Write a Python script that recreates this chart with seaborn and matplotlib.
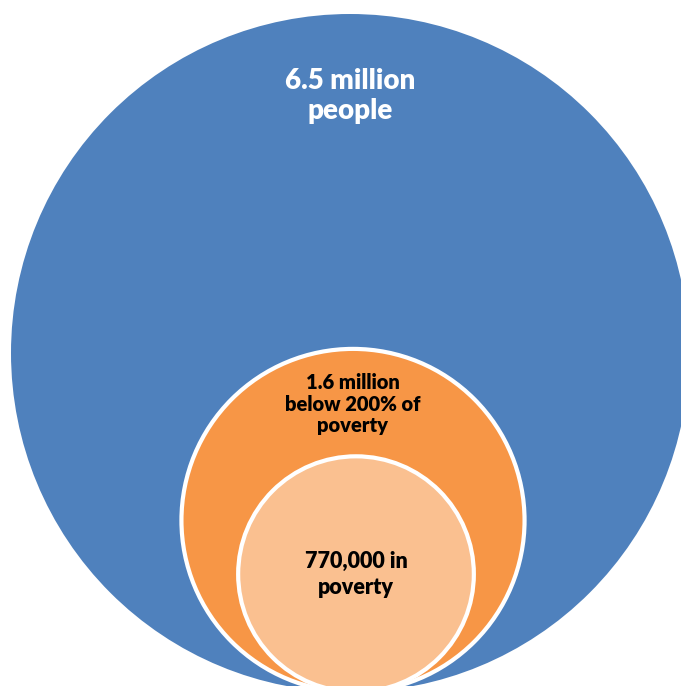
import numpy as np
import matplotlib
matplotlib.use("Agg")
import matplotlib.pyplot as plt
from matplotlib.patches import Circle
import seaborn as sns

# ---- data ----
labels = ["6.5 million\npeople", "1.6 million\nbelow 200% of\npoverty", "770,000 in\npoverty"]
values = [6_500_000, 1_600_000, 770_000]
colors = ["#4F81BD", "#F79646", "#FAC090"]
text_colors = ["white", "black", "black"]

# ---- layout (pixel-like canvas units) ----
W, H = 681, 686
R_MAX = 339          # radius of the largest circle
BASE_Y = 692         # common bottom (tangent) line of circles
CX = [350, 353, 356]
EDGE_W = [0, 3.0, 3.0]
R_SCALE = [1.0, 1.02, 1.01]
FONT_SIZES = [20, 14.5, 15.5]
LINESP = [1.2, 1.17, 1.3]
TEXT_POS = [0.121, 0.161, 0.5]  # label centre as fraction of diameter from top

sns.set_theme(style="white")
plt.rcParams['font.family'] = ['Lato', 'DejaVu Sans']

fig = plt.figure(figsize=(W / 100, H / 100), dpi=100)
ax = fig.add_axes([0, 0, 1, 1])
ax.set_xlim(0, W)
ax.set_ylim(H, 0)
ax.set_aspect("equal")
ax.axis("off")

vmax = max(values)
for i, (lab, v, c, tc) in enumerate(zip(labels, values, colors, text_colors)):
    r = R_MAX * np.sqrt(v / vmax) * R_SCALE[i]
    cy = BASE_Y - r
    ax.add_patch(Circle((CX[i], cy), r, facecolor=c,
                        edgecolor="white", linewidth=EDGE_W[i], zorder=i + 1))
    ty = cy - r + 2 * r * TEXT_POS[i]
    ax.text(CX[i], ty, lab, ha="center", va="center", color=tc,
            fontsize=FONT_SIZES[i], fontweight=800, linespacing=LINESP[i],
            zorder=10)

fig.savefig("out.png", dpi=100, facecolor="white")
